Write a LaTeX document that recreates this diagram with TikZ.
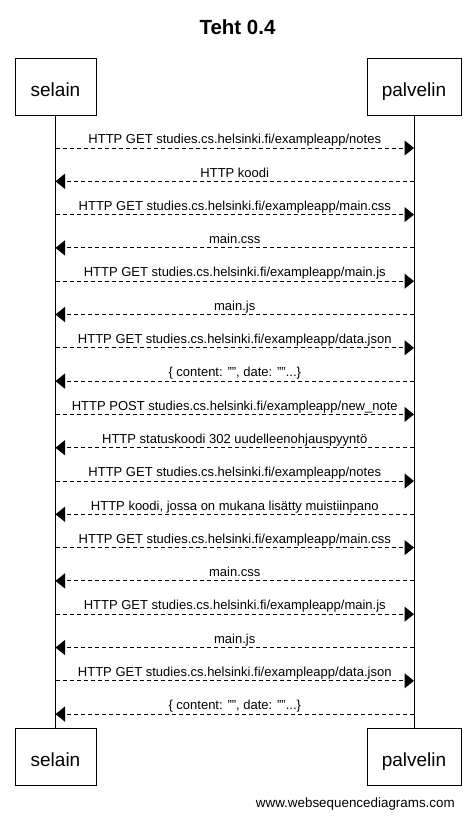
\documentclass[tikz,border=0pt]{standalone}
\usepackage{fontspec}
\setmainfont{Liberation Sans}
\usetikzlibrary{arrows.meta,calc}
\newcommand{\sqmsg}[3]{%
  \pgfmathsetmacro{\yy}{148+33.3*#1}%
  \coordinate (a#1) at (55.5,\yy);%
  \coordinate (b#1) at (414,\yy);%
  \ifnum#2=0
    \draw[msg] (a#1) -- (b#1);%
  \else
    \draw[msg] (b#1) -- (a#1);%
  \fi
  \node[lbl] (l#1) at ($(a#1)!0.5!(b#1)+(0,-4.3)$) {#3};%
}
\begin{document}
\begin{tikzpicture}[x=1pt,y=-1pt,
  actor/.style={draw,line width=1pt,minimum height=57pt,inner sep=0pt,
    text height=19pt,text depth=0pt,
    font=\fontsize{19}{22}\selectfont},
  msg/.style={dash pattern=on 4pt off 3pt,line width=1pt,
    -{Triangle[length=9.5pt,width=15pt]}},
  lbl/.style={font=\fontsize{13}{15}\selectfont,inner sep=0pt,anchor=base},
  life/.style={line width=1pt}]
\useasboundingbox (0,0) rectangle (475,819);
\node[font=\bfseries\fontsize{20.5}{24}\selectfont] (title) at (237.5,27) {Teht 0.4};
\node[actor,minimum width=81pt] (st) at (55.5,86.5) {selain};
\node[actor,minimum width=94pt] (pt) at (414,86.5) {palvelin};
\node[actor,minimum width=81pt] (sb) at (55.5,757) {selain};
\node[actor,minimum width=94pt] (pb) at (414,757) {palvelin};
\draw[life] (st.south) -- (sb.north);
\draw[life] (pt.south) -- (pb.north);
\sqmsg{0}{0}{HTTP GET studies.cs.helsinki.fi/exampleapp/notes}
\sqmsg{1}{1}{HTTP koodi}
\sqmsg{2}{0}{HTTP GET studies.cs.helsinki.fi/exampleapp/main.css}
\sqmsg{3}{1}{main.css}
\sqmsg{4}{0}{HTTP GET studies.cs.helsinki.fi/exampleapp/main.js}
\sqmsg{5}{1}{main.js}
\sqmsg{6}{0}{HTTP GET studies.cs.helsinki.fi/exampleapp/data.json}
\sqmsg{7}{1}{\{ content: "", date: ""...\}}
\sqmsg{8}{0}{HTTP POST studies.cs.helsinki.fi/exampleapp/new\_note}
\sqmsg{9}{1}{HTTP statuskoodi 302 uudelleenohjauspyyntö}
\sqmsg{10}{0}{HTTP GET studies.cs.helsinki.fi/exampleapp/notes}
\sqmsg{11}{1}{HTTP koodi, jossa on mukana lisätty muistiinpano}
\sqmsg{12}{0}{HTTP GET studies.cs.helsinki.fi/exampleapp/main.css}
\sqmsg{13}{1}{main.css}
\sqmsg{14}{0}{HTTP GET studies.cs.helsinki.fi/exampleapp/main.js}
\sqmsg{15}{1}{main.js}
\sqmsg{16}{0}{HTTP GET studies.cs.helsinki.fi/exampleapp/data.json}
\sqmsg{17}{1}{\{ content: "", date: ""...\}}
\node[font=\fontsize{13.4}{16}\selectfont,anchor=east,inner sep=0pt] (footer) at (455,804) {www.websequencediagrams.com};
\end{tikzpicture}
\end{document}
